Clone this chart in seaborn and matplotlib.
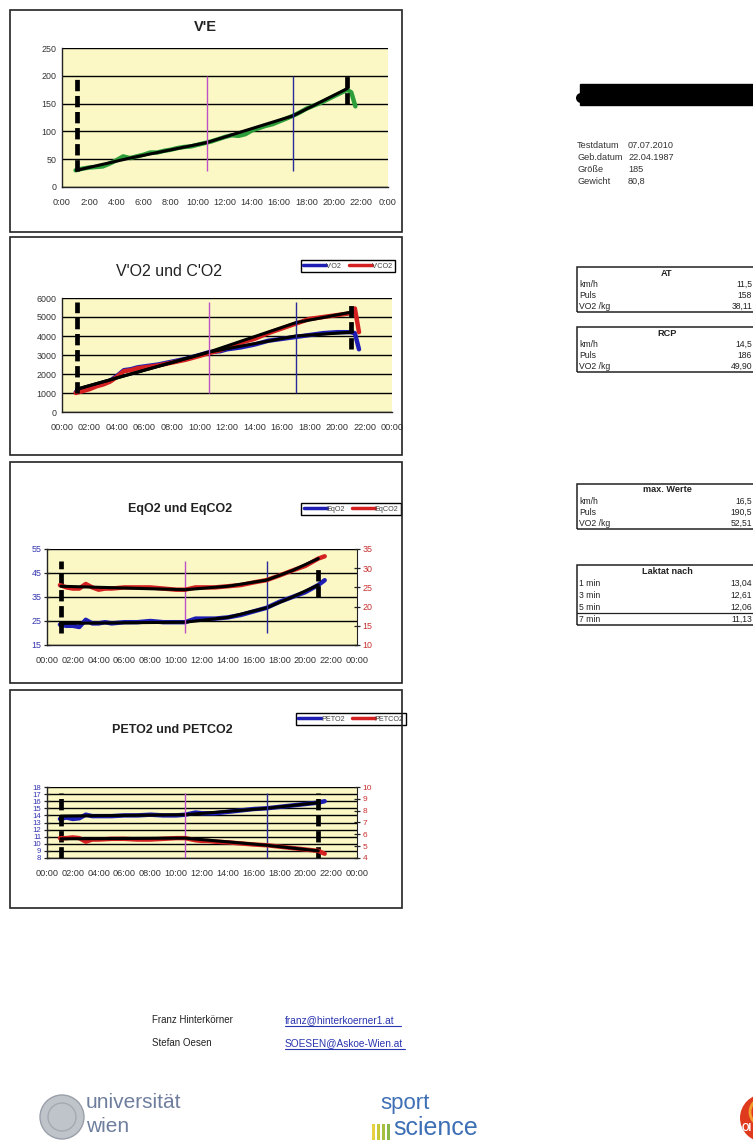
import numpy as np
import pandas as pd
import matplotlib
matplotlib.use("Agg")
import matplotlib.pyplot as plt
import seaborn as sns
from matplotlib.patches import Rectangle, Ellipse
from matplotlib.lines import Line2D

sns.set_style("white")
plt.rcParams["font.family"] = ["Liberation Sans", "DejaVu Sans"]

# ---------------- data (time in minutes) ----------------
ve_t = [1.0, 1.5, 2.0, 2.5, 3.0, 3.5, 4.0, 4.5, 5.0, 5.5, 6.0, 6.5, 7.0, 7.5, 8.0, 8.5, 9.0, 9.5, 10.0, 10.5,
        11.0, 11.5, 12.0, 12.5, 13.0, 13.5, 14.0, 14.5, 15.0, 15.5, 16.0, 16.5, 17.0, 17.5, 18.0, 18.5, 19.0,
        19.5, 20.0, 20.5, 21.0, 21.3, 21.6]
ve = [30, 33, 35, 36, 37, 42, 48, 55, 52, 55, 58, 62, 62, 65, 67, 70, 72, 73, 76, 79,
      82, 86, 90, 93, 92, 95, 102, 106, 110, 113, 118, 123, 128, 134, 141, 146, 151,
      157, 163, 169, 175, 170, 145]
ve_fit_t = [1.07, 5.0, 10.67, 17.0, 21.0]
ve_fit = [30, 52, 80, 128, 177]

gas_t = [1.0, 1.5, 2.0, 2.5, 3.0, 3.5, 4.0, 4.5, 5.0, 5.5, 6.0, 7.0, 8.0, 9.0, 10.0, 10.7, 11.5, 12.0, 13.0,
         14.0, 15.0, 16.0, 17.0, 18.0, 19.0, 20.0, 21.0, 21.3, 21.6]
vo2 = [1050, 1150, 1250, 1400, 1500, 1650, 1900, 2200, 2250, 2350, 2400, 2500, 2650, 2800, 3000, 3150, 3200,
       3300, 3400, 3550, 3750, 3850, 3950, 4050, 4150, 4200, 4200, 4150, 3300]
vco2 = [1000, 1100, 1200, 1350, 1450, 1600, 1850, 2150, 2200, 2300, 2350, 2450, 2600, 2750, 2950, 3100, 3250,
        3400, 3650, 3850, 4150, 4400, 4650, 4900, 5000, 5100, 5200, 5450, 4200]
vo2_fit_t = [1.07, 10.67, 17.0, 21.0]
vo2_fit = [1200, 3150, 4000, 4200]
vco2_fit_t = [1.07, 10.67, 17.0, 21.0]
vco2_fit = [1200, 3150, 4700, 5250]

eq_t = [1.0, 1.5, 2.0, 2.5, 3.0, 3.5, 4.0, 4.5, 5.0, 6.0, 7.0, 8.0, 9.0, 10.0, 10.7, 11.5, 12.0, 13.0, 14.0,
        15.0, 16.0, 17.0, 18.0, 19.0, 20.0, 21.0, 21.5]
eqo2 = [23.5, 23, 23, 22.5, 25.5, 24, 24, 24.5, 24, 24.5, 24.5, 25, 24.5, 24.5, 24.5, 26, 26, 26, 26.5,
        27.5, 29, 30.5, 33, 35, 37, 40, 42]
eqco2 = [25.6, 25.0, 24.7, 24.7, 25.9, 25.0, 24.4, 24.7, 24.7, 25.0, 25.0, 25.0, 24.7, 24.4, 24.4, 25.0, 25.0,
         25.0, 25.3, 25.6, 26.3, 26.9, 28.1, 29.4, 30.6, 32.5, 33.1]
eq_fit_t = [1.07, 10.67, 14.0, 17.0, 19.0, 21.0]
eqo2_fit = [24, 24.5, 26.5, 30.5, 35, 40]
eqco2_fit = [25.3, 24.4, 25.3, 26.9, 29.4, 32.5]

pet_t = [1.0, 1.5, 2.0, 2.5, 3.0, 3.5, 4.0, 5.0, 6.0, 7.0, 8.0, 9.0, 10.0, 10.7, 11.5, 12.0, 12.5, 13.0, 14.0,
         15.0, 16.0, 17.0, 18.0, 19.0, 20.0, 21.0, 21.5]
peto2 = [13.5, 13.7, 13.5, 13.6, 14.1, 13.9, 13.9, 13.9, 14.0, 14.0, 14.1, 14.0, 14.0, 14.1, 14.4, 14.3, 14.3,
         14.3, 14.5, 14.7, 14.9, 15.0, 15.2, 15.4, 15.6, 15.8, 16.0]
petco2 = [5.68, 5.68, 5.74, 5.68, 5.38, 5.56, 5.56, 5.62, 5.62, 5.56, 5.56, 5.62, 5.68, 5.68, 5.5, 5.44, 5.44,
          5.38, 5.32, 5.23, 5.14, 5.08, 4.96, 4.84, 4.72, 4.6, 4.36]
pet_fit_t = [1.07, 10.67, 17.0, 21.0]
peto2_fit = [13.9, 14.1, 15.0, 15.8]
petco2_fit = [5.62, 5.68, 5.08, 4.6]

# marker lines: test start, AT, RCP, test end
start_t, at_t, rcp_t, end_t = 1.07, 10.67, 17.0, 21.0

xticks = list(range(0, 25, 2))
xlabels_short = ["0:00", "2:00", "4:00", "6:00", "8:00", "10:00", "12:00", "14:00", "16:00", "18:00",
                 "20:00", "22:00", "0:00"]
xlabels_long = ["00:00", "02:00", "04:00", "06:00", "08:00", "10:00", "12:00", "14:00", "16:00", "18:00",
                "20:00", "22:00", "00:00"]

info_labels = ["Testdatum", "Geb.datum", "Größe", "Gewicht"]
info_values = ["07.07.2010", "22.04.1987", "185", "80,8"]
row_labels = ["km/h", "Puls", "VO2 /kg"]
at_vals = ["11,5", "158", "38,11"]
rcp_vals = ["14,5", "186", "49,90"]
max_vals = ["16,5", "190,5", "52,51"]
lak_labels = ["1 min", "3 min", "5 min", "7 min"]
lak_vals = ["13,04", "12,61", "12,06", "11,13"]

# ---------------- figure ----------------
W, H = 753, 1144
fig = plt.figure(figsize=(7.53, 11.44), dpi=100)
fig.patch.set_facecolor("white")

YEL = "#FBF8C6"
BLUE = "#1E1EB4"
RED = "#D42020"
GREEN = "#2E9E3A"
PINK = "#C050C8"
VBLUE = "#2A2A9A"
TXT = "#333333"
XFS = 6.6
YFS = 6.4


def fx(x):
    return x / W


def fy(y):
    return 1 - y / H


def ax_at(x1, y1, x2, y2):
    return fig.add_axes([x1 / W, 1 - y2 / H, (x2 - x1) / W, (y2 - y1) / H])


def box(x1, y1, x2, y2, lw=1.2, color="#222222"):
    fig.add_artist(Rectangle((fx(x1), fy(y2)), fx(x2) - fx(x1), fy(y1) - fy(y2),
                             transform=fig.transFigure, fill=False, lw=lw, edgecolor=color))


def disc(cx, cy, r, **kw):
    fig.add_artist(Ellipse((fx(cx), fy(cy)), 2 * r / W, 2 * r / H, transform=fig.transFigure, **kw))


def style_axis(ax, ylim, yticks, xlabels, ycolor=TXT, yfs=YFS):
    ax.set_facecolor(YEL)
    ax.set_xlim(0, 24)
    ax.set_ylim(*ylim)
    ax.set_xticks(xticks)
    ax.set_xticklabels(xlabels, fontsize=XFS, color=TXT)
    ax.set_yticks(yticks)
    ax.set_yticklabels([str(v) for v in yticks], fontsize=yfs, color=ycolor)
    ax.yaxis.grid(True, color="black", lw=1.0)
    ax.xaxis.grid(False)
    ax.set_axisbelow(True)
    for s in ["top", "right"]:
        ax.spines[s].set_visible(False)
    for s in ["left", "bottom"]:
        ax.spines[s].set_color("#222222")
        ax.spines[s].set_linewidth(1.0)
    ax.tick_params(axis="both", direction="inout", length=4, width=0.9, pad=2, colors="#222222")
    ax.tick_params(axis="x", labelcolor=TXT, pad=6)
    ax.tick_params(axis="y", labelcolor=ycolor)
    ax.set_xlabel("")
    ax.set_ylabel("")


def markers(ax, lo, hi, end_lo=None, end_hi=None):
    ax.vlines([start_t], lo, hi, colors="black", lw=3.4, linestyles=(0, (2.4, 1.0)), zorder=5)
    ax.vlines([end_t], end_lo if end_lo is not None else lo, end_hi if end_hi is not None else hi,
              colors="black", lw=3.4, linestyles=(0, (2.4, 1.0)), zorder=5)
    ax.vlines([at_t], lo, hi, colors=PINK, lw=1.0, zorder=4)
    ax.vlines([rcp_t], lo, hi, colors=VBLUE, lw=1.0, zorder=4)


def legend(ax, handles, labels, cx, cy):
    lg = ax.legend(handles, labels, loc="center", bbox_to_anchor=(fx(cx), fy(cy)),
                   bbox_transform=fig.transFigure, ncol=2, fontsize=5.2, handlelength=3.2,
                   handletextpad=0.0, columnspacing=0.9, frameon=True, fancybox=False,
                   edgecolor="black", framealpha=1, borderpad=0.35)
    lg.get_frame().set_linewidth(1.0)
    for t in lg.get_texts():
        t.set_color("#444444")


def right_axis(axr, ylim, ticks, fs=YFS):
    axr.set_ylim(*ylim)
    axr.set_yticks(ticks)
    axr.set_yticklabels([str(v) for v in ticks], fontsize=fs, color="#C83030")
    axr.tick_params(axis="y", direction="inout", length=4, width=0.9, pad=2, colors="#222222",
                    labelcolor="#C83030")
    axr.grid(False)
    axr.set_ylabel("")
    for s in ["top", "left", "bottom"]:
        axr.spines[s].set_visible(False)
    axr.spines["right"].set_color("#222222")


# ---------------- Chart 1: V'E ----------------
box(10, 10, 402, 232)
fig.text(fx(205), fy(27), "V'E", ha="center", va="center", fontsize=10.5, fontweight="bold", color="#222222")
ax1 = ax_at(62, 48, 388, 187)
sns.lineplot(x=ve_t, y=ve, ax=ax1, color=GREEN, lw=3.2, zorder=2)
sns.lineplot(x=ve_fit_t, y=ve_fit, ax=ax1, color="black", lw=2.2, zorder=3)
markers(ax1, 28, 200, 150, 200)
style_axis(ax1, (0, 250), [0, 50, 100, 150, 200, 250], xlabels_short)

# ---------------- Chart 2: V'O2 und C'O2 ----------------
box(10, 237, 402, 455)
fig.text(fx(169), fy(272), "V'O2 und C'O2", ha="center", va="center", fontsize=11.5, color="#222222")
ax2 = ax_at(62, 298, 392, 412)
sns.lineplot(x=gas_t, y=vo2, ax=ax2, color=BLUE, lw=3.2, zorder=2)
sns.lineplot(x=gas_t, y=vco2, ax=ax2, color=RED, lw=3.2, zorder=2)
sns.lineplot(x=vo2_fit_t, y=vo2_fit, ax=ax2, color="black", lw=2.2, zorder=3)
sns.lineplot(x=vco2_fit_t, y=vco2_fit, ax=ax2, color="black", lw=2.2, zorder=3)
markers(ax2, 1000, 5800, 3300, 5800)
style_axis(ax2, (0, 6000), [0, 1000, 2000, 3000, 4000, 5000, 6000], xlabels_long)
legend(ax2, [Line2D([], [], color=BLUE, lw=2.5), Line2D([], [], color=RED, lw=2.5)],
       ["V'O2", "V'CO2"], 348, 266)

# ---------------- Chart 3: EqO2 und EqCO2 ----------------
box(10, 462, 402, 683)
fig.text(fx(180), fy(509), "EqO2 und EqCO2", ha="center", va="center", fontsize=9, fontweight="bold",
         color="#222222")
ax3 = ax_at(47, 549, 357, 645)
ax3r = ax3.twinx()
sns.lineplot(x=eq_t, y=eqo2, ax=ax3, color=BLUE, lw=3.2, zorder=2)
sns.lineplot(x=eq_fit_t, y=eqo2_fit, ax=ax3, color="black", lw=2.2, zorder=3)
markers(ax3, 20, 50, 35, 48)
style_axis(ax3, (15, 55), [15, 25, 35, 45, 55], xlabels_long, ycolor="#3434B0")
sns.lineplot(x=eq_t, y=eqco2, ax=ax3r, color=RED, lw=3.2, zorder=2)
sns.lineplot(x=eq_fit_t, y=eqco2_fit, ax=ax3r, color="black", lw=2.2, zorder=3)
right_axis(ax3r, (10, 35), [10, 15, 20, 25, 30, 35])
legend(ax3r, [Line2D([], [], color=BLUE, lw=2.5), Line2D([], [], color=RED, lw=2.5)],
       ["EqO2", "EqCO2"], 351, 509)

# ---------------- Chart 4: PETO2 und PETCO2 ----------------
box(10, 690, 402, 908)
fig.text(fx(172), fy(730), "PETO2 und PETCO2", ha="center", va="center", fontsize=9, fontweight="bold",
         color="#222222")
ax4 = ax_at(47, 787, 357, 858)
ax4r = ax4.twinx()
sns.lineplot(x=pet_t, y=peto2, ax=ax4, color=BLUE, lw=3.2, zorder=2)
sns.lineplot(x=pet_fit_t, y=peto2_fit, ax=ax4, color="black", lw=2.2, zorder=3)
markers(ax4, 8, 17.2)
style_axis(ax4, (8, 18), list(range(8, 19)), xlabels_long, ycolor="#3434B0", yfs=5.6)
sns.lineplot(x=pet_t, y=petco2, ax=ax4r, color=RED, lw=3.2, zorder=2)
sns.lineplot(x=pet_fit_t, y=petco2_fit, ax=ax4r, color="black", lw=2.2, zorder=3)
right_axis(ax4r, (4, 10), list(range(4, 11)), fs=6.0)
legend(ax4r, [Line2D([], [], color=BLUE, lw=2.5), Line2D([], [], color=RED, lw=2.5)],
       ["PETO2", "PETCO2"], 351, 719)

# ---------------- right column ----------------
fig.add_artist(Rectangle((fx(580), fy(105)), fx(760) - fx(580), fy(84) - fy(105),
                         transform=fig.transFigure, facecolor="black", edgecolor="black"))
disc(581, 98, 5, facecolor="black", edgecolor="none")
for i, (lab, val) in enumerate(zip(info_labels, info_values)):
    y = 146 + i * 11.7
    fig.text(fx(577), fy(y), lab, fontsize=6.6, color=TXT, va="center", ha="left")
    fig.text(fx(628), fy(y), val, fontsize=6.6, color=TXT, va="center", ha="left")


def table(y_top, title, labels, values, row_h=11.2, lines_after=()):
    n = len(labels)
    y_bot = y_top + 6 + row_h * (n + 0.5)
    box(577, y_top, 760, y_bot, lw=1.1)
    fig.text(fx(667), fy(y_top + 6), title, fontsize=6.6, fontweight="bold", color="#222222",
             ha="center", va="center")
    for i, (lab, val) in enumerate(zip(labels, values)):
        y = y_top + 6 + row_h * (i + 1)
        fig.text(fx(579), fy(y), lab, fontsize=6.2, color="#222222", ha="left", va="center")
        fig.text(fx(752), fy(y), val, fontsize=6.2, color="#222222", ha="right", va="center")
    for j in lines_after:
        yl = y_top + 6 + row_h * (j + 1.5)
        fig.add_artist(Line2D([fx(577), fx(760)], [fy(yl), fy(yl)], transform=fig.transFigure,
                              color="#222222", lw=0.9))


table(267, "AT", row_labels, at_vals)
table(327, "RCP", row_labels, rcp_vals)
table(484, "max. Werte", row_labels, max_vals)
table(565, "Laktat nach", lak_labels, lak_vals, row_h=12, lines_after=(2,))

# ---------------- footer ----------------
fig.text(fx(152), fy(1020), "Franz Hinterkörner", fontsize=7.0, color="#222222", va="center")
fig.text(fx(152), fy(1043), "Stefan Oesen", fontsize=7.0, color="#222222", va="center")
fig.text(fx(285), fy(1020), "franz@hinterkoerner1.at", fontsize=7.3, color="#2A35B0", va="center")
fig.text(fx(285), fy(1043), "SOESEN@Askoe-Wien.at", fontsize=7.3, color="#2A35B0", va="center")
for y, x2 in [(1026, 401), (1049, 405)]:
    fig.add_artist(Line2D([fx(285), fx(x2)], [fy(y), fy(y)], transform=fig.transFigure,
                          color="#2A35B0", lw=0.8))

# logos (approximated)
disc(62, 1117, 22, facecolor="#BFC3CA", edgecolor="#9AA0AA", lw=1)
disc(62, 1117, 14, facecolor="none", edgecolor="#A4A9B2", lw=1)
fig.text(fx(86), fy(1102), "universität", fontsize=15, color="#6E7E9C", va="center", ha="left")
fig.text(fx(86), fy(1127), "wien", fontsize=15, color="#6E7E9C", va="center", ha="left")
fig.text(fx(380), fy(1104), "sport", fontsize=16, color="#3D6FB5", va="center", ha="left")
fig.text(fx(393), fy(1128), "science", fontsize=18, color="#3D6FB5", va="center", ha="left")
for k, c in enumerate(["#E8D040", "#C8C838", "#A8C040", "#88B848"]):
    fig.add_artist(Rectangle((fx(372 + k * 5), fy(1140)), 2.5 / W, 16 / H, transform=fig.transFigure,
                             facecolor=c, edgecolor="none"))
disc(764, 1118, 24, facecolor="#E03A1E", edgecolor="none")
disc(764, 1112, 14, facecolor="none", edgecolor="#F4A030", lw=2)
fig.text(fx(742), fy(1128), "OI", fontsize=7, color="white", fontweight="bold", va="center")

fig.savefig("out.png", dpi=100)
